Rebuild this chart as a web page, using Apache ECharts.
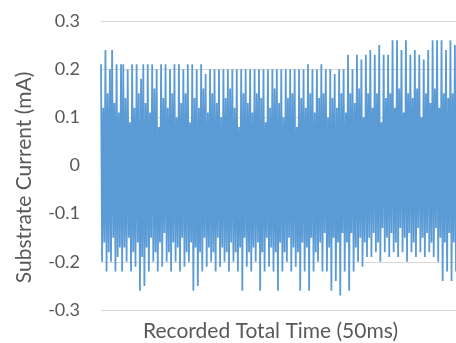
<!DOCTYPE html>
<html>
<head>
<meta charset="utf-8">
<script src="https://cdn.jsdelivr.net/npm/echarts@6/dist/echarts.min.js"></script>
<style>html,body{margin:0;padding:0;background:#fff}#c{width:456px;height:343px}</style>
</head>
<body>
<div id="c"></div>
<script>
// Upper excursions of each oscillation (mA), left to right
var highs = [
  0.21, 0.12, 0.24, 0.15, 0.20, 0.24, 0.13, 0.21, 0.11, 0.21,
  0.21, 0.14, 0.20, 0.09, 0.21, 0.12, 0.21, 0.15, 0.18, 0.21,
  0.13, 0.21, 0.11, 0.21, 0.16, 0.20, 0.08, 0.21, 0.14, 0.21,
  0.12, 0.20, 0.15, 0.21, 0.10, 0.21, 0.13, 0.20, 0.15, 0.21,
  0.09, 0.21, 0.14, 0.20, 0.12, 0.21, 0.16, 0.19, 0.11, 0.20,
  0.15, 0.20, 0.13, 0.20, 0.10, 0.20, 0.14, 0.20, 0.16, 0.20,
  0.12, 0.20, 0.08, 0.20, 0.15, 0.20, 0.13, 0.20, 0.11, 0.20,
  0.15, 0.20, 0.14, 0.20, 0.09, 0.20, 0.12, 0.20, 0.16, 0.20,
  0.13, 0.20, 0.10, 0.20, 0.14, 0.20, 0.15, 0.20, 0.08, 0.20,
  0.14, 0.20, 0.12, 0.21, 0.15, 0.20, 0.11, 0.20, 0.14, 0.21,
  0.15, 0.20, 0.10, 0.20, 0.14, 0.19, 0.12, 0.20, 0.15, 0.20,
  0.11, 0.23, 0.15, 0.20, 0.13, 0.23, 0.16, 0.22, 0.10, 0.23,
  0.15, 0.24, 0.12, 0.23, 0.15, 0.25, 0.09, 0.23, 0.14, 0.23,
  0.15, 0.26, 0.12, 0.26, 0.16, 0.24, 0.11, 0.26, 0.15, 0.23,
  0.14, 0.24, 0.16, 0.23, 0.10, 0.22, 0.15, 0.24, 0.13, 0.26,
  0.16, 0.26, 0.12, 0.26, 0.15, 0.24, 0.14, 0.26, 0.15, 0.25
];
// Lower excursions of each oscillation (mA), left to right
var lows = [
  -0.20, -0.16, -0.22, -0.18, -0.20, -0.15, -0.22, -0.19, -0.17, -0.22,
  -0.17, -0.20, -0.15, -0.22, -0.18, -0.21, -0.16, -0.26, -0.19, -0.25,
  -0.17, -0.22, -0.15, -0.20, -0.18, -0.22, -0.16, -0.21, -0.14, -0.20,
  -0.18, -0.22, -0.16, -0.20, -0.17, -0.22, -0.15, -0.21, -0.18, -0.20,
  -0.16, -0.26, -0.17, -0.25, -0.18, -0.22, -0.15, -0.21, -0.17, -0.20,
  -0.18, -0.22, -0.15, -0.21, -0.17, -0.20, -0.18, -0.22, -0.16, -0.20,
  -0.18, -0.22, -0.17, -0.26, -0.15, -0.21, -0.18, -0.22, -0.17, -0.20,
  -0.16, -0.26, -0.18, -0.22, -0.15, -0.21, -0.17, -0.22, -0.18, -0.26,
  -0.16, -0.22, -0.18, -0.20, -0.15, -0.22, -0.17, -0.21, -0.18, -0.26,
  -0.16, -0.22, -0.17, -0.26, -0.15, -0.22, -0.18, -0.20, -0.16, -0.22,
  -0.14, -0.22, -0.17, -0.26, -0.15, -0.24, -0.16, -0.27, -0.14, -0.22,
  -0.16, -0.26, -0.14, -0.22, -0.17, -0.20, -0.15, -0.21, -0.16, -0.19,
  -0.15, -0.19, -0.14, -0.18, -0.16, -0.20, -0.13, -0.18, -0.15, -0.19,
  -0.14, -0.18, -0.16, -0.19, -0.13, -0.18, -0.15, -0.20, -0.14, -0.18,
  -0.16, -0.19, -0.13, -0.18, -0.15, -0.19, -0.14, -0.18, -0.16, -0.19,
  -0.13, -0.20, -0.15, -0.24, -0.16, -0.22, -0.14, -0.24, -0.16, -0.22
];
var yTicks = [-0.3, -0.2, -0.1, 0, 0.1, 0.2, 0.3];
var xTitle = 'Recorded Total Time (50ms)';
var yTitle = 'Substrate Current (mA)';

var values = [];
for (var i = 0; i < highs.length; i++) { values.push(highs[i]); values.push(lows[i]); }
var cats = values.map(function (_, i) { return i; });

var font = 'Lato, "Open Sans", sans-serif';
var chart = echarts.init(document.getElementById('c'), null, {renderer: 'canvas'});
chart.setOption({
  animation: false,
  grid: {left: 101, right: 0, top: 21, bottom: 33, containLabel: false, outerBoundsMode: 'none'},
  xAxis: {
    type: 'category', data: cats, boundaryGap: false,
    axisLine: {show: true, lineStyle: {color: '#D9D9D9', width: 1}},
    axisTick: {show: false}, axisLabel: {show: false}, splitLine: {show: false},
    name: xTitle, nameLocation: 'middle', nameGap: 11,
    nameTextStyle: {fontFamily: font, fontSize: 21, color: '#595959', padding: [0, 16, 0, 0]}
  },
  yAxis: {
    type: 'value', min: -0.3, max: 0.3, interval: 0.1,
    axisLine: {show: false}, axisTick: {show: false},
    splitLine: {show: true, lineStyle: {color: '#D9D9D9', width: 1}},
    axisLabel: {
      fontFamily: font, fontSize: 18, color: '#595959', margin: 21,
      formatter: function (v) {
        var r = Math.round(v * 10) / 10;
        for (var k = 0; k < yTicks.length; k++) if (Math.abs(yTicks[k] - r) < 1e-9) return r === 0 ? '0' : r.toFixed(1);
        return '';
      }
    },
    name: yTitle, nameLocation: 'middle', nameGap: 66, nameRotate: 90,
    nameTextStyle: {fontFamily: font, fontSize: 21, color: '#595959', padding: [0, 24, 0, 0]}
  },
  series: [{
    type: 'line', data: values, showSymbol: false, sampling: null,
    lineStyle: {color: '#5B9BD5', width: 1.8}, itemStyle: {color: '#5B9BD5'}
  }]
});
</script>
</body>
</html>
